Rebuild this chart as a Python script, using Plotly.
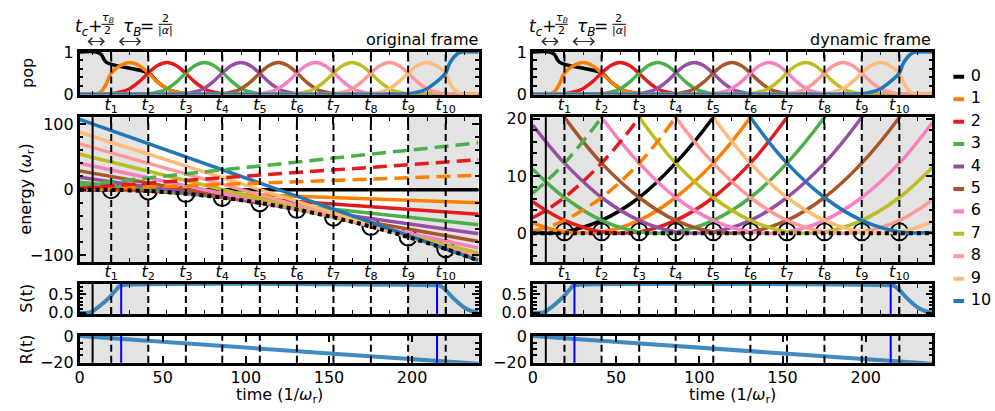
import plotly.graph_objects as go

W, H = 995, 411
FONT = "DejaVu Sans"

# ---------------- data ----------------
levels = list(range(11))
level_colors = ["#000000", "#ff7f00", "#e41a1c", "#4daf4a", "#984ea3", "#a65628",
                "#f781bf", "#bcbd22", "#ff9896", "#ffbb78", "#1f77b4"]
dashed_levels = [-1, -2, -3]
dashed_colors = ["#ff7f00", "#e41a1c", "#4daf4a"]

t_c = 7.8
tau_B = 22.35
t_cross = [19.0, 41.3, 63.9, 85.8, 108.4, 130.7, 152.7, 175.2, 197.6, 220.2]
t_mid = [7.8, 30.2, 52.5, 74.9, 97.2, 119.6, 141.9, 164.3, 186.6, 209.0, 231.3]
t_labels = ["<i>t</i><sub>%d</sub>" % k for k in range(1, 11)]
shade_spans = [[0, 41.3], [197.6, 240]]
t_blue = [25, 215]
x_ticks = [0, 50, 100, 150, 200]

# original frame: straight lines, values at t=0 and t=240
orig_t = [0, 240]
orig_E_start = [0, 1.7, 5.4, 11.1, 18.8, 28.5, 40.2, 53.9, 69.6, 87.3, 107.0]
orig_E_end = [0, -19.8, -37.6, -53.3, -67.1, -78.9, -88.7, -96.5, -102.2, -106.0, -107.8]
orig_dashed_start = [0.3, 2.6, 6.9]
orig_dashed_end = [21.8, 45.6, 71.3]
orig_circle_E = [0, -2, -6, -12, -20, -30, -42, -56, -72, -90]

# sample times for the curved energy lines
grid_t = [0, 7.8, 19.0, 41.3, 63.9, 85.8, 108.4, 130.7, 152.7, 175.2, 197.6, 220.2, 240]
orig_ground = [-0.12, 0, -0.25, -2.25, -6.25, -12.25, -20.25, -30.25, -42.25, -56.25, -72.25, -90.25, -108.0]

# dynamic frame energies at grid_t
dyn_E0 = [0.12, 0, 0.25, 2.25, 6.25, 12.25, 20.25, 30.25, 42.25, 56.25, 72.25, 90.25, 108.0]
dyn_E1 = [1.82, 1, 0.25, 0.25, 2.25, 6.25, 12.25, 20.25, 30.25, 42.25, 56.25, 72.25, 88.2]
dyn_E2 = [5.52, 4, 2.25, 0.25, 0.25, 2.25, 6.25, 12.25, 20.25, 30.25, 42.25, 56.25, 70.4]
dyn_E3 = [11.2, 9, 6.25, 2.25, 0.25, 0.25, 2.25, 6.25, 12.25, 20.25, 30.25, 42.25, 54.6]
dyn_E4 = [18.9, 16, 12.25, 6.25, 2.25, 0.25, 0.25, 2.25, 6.25, 12.25, 20.25, 30.25, 40.8]
dyn_E5 = [28.6, 25, 20.25, 12.25, 6.25, 2.25, 0.25, 0.25, 2.25, 6.25, 12.25, 20.25, 29.1]
dyn_E6 = [40.3, 36, 30.25, 20.25, 12.25, 6.25, 2.25, 0.25, 0.25, 2.25, 6.25, 12.25, 19.3]
dyn_E7 = [54.0, 49, 42.25, 30.25, 20.25, 12.25, 6.25, 2.25, 0.25, 0.25, 2.25, 6.25, 11.5]
dyn_E8 = [69.7, 64, 56.25, 42.25, 30.25, 20.25, 12.25, 6.25, 2.25, 0.25, 0.25, 2.25, 5.8]
dyn_E9 = [87.4, 81, 72.25, 56.25, 42.25, 30.25, 20.25, 12.25, 6.25, 2.25, 0.25, 0.25, 2.0]
dyn_E10 = [107.1, 100, 90.25, 72.25, 56.25, 42.25, 30.25, 20.25, 12.25, 6.25, 2.25, 0.25, 0.15]
dyn_Em1 = [0.42, 1, 2.25, 6.25, 12.25, 20.25, 30.25, 42.25, 56.25, 72.25, 90.25, 110.25, 129.4]
dyn_Em2 = [2.72, 4, 6.25, 12.25, 20.25, 30.25, 42.25, 56.25, 72.25, 90.25, 110.25, 132.25, 154.8]
dyn_Em3 = [7.02, 9, 12.25, 20.25, 30.25, 42.25, 56.25, 72.25, 90.25, 110.25, 132.25, 156.25, 182.2]
dyn_E = [dyn_E0, dyn_E1, dyn_E2, dyn_E3, dyn_E4, dyn_E5, dyn_E6, dyn_E7, dyn_E8, dyn_E9, dyn_E10]
dyn_Em = [dyn_Em1, dyn_Em2, dyn_Em3]
dyn_ground_t = [0, 240]
dyn_ground = [0, 0]
dyn_circle_E = [0.25, 0.25, 0.25, 0.25, 0.25, 0.25, 0.25, 0.25, 0.25, 0.25]

# population: common bump profile vs (t - t_n)/tau_B, plus the special edges
pop_bump_u = [-1.25, -1.0, -0.75, -0.5, -0.25, 0.0, 0.25, 0.5, 0.75, 1.0, 1.25, 1.5, 1.75, 2.0, 2.25]
pop_bump_v = [0.0, 0.01, 0.05, 0.13, 0.29, 0.5, 0.68, 0.75, 0.68, 0.5, 0.29, 0.13, 0.05, 0.01, 0.0]
pop_start_t = [0, 10, 13, 16]
pop0_start_v = [1, 1, 0.94, 0.76]
pop1_start_v = [0, 0, 0.06, 0.24]
pop_end_dt = [2, 4, 6, 8, 10]
pop9_end_v = [0.3, 0.17, 0.08, 0.02, 0.0]
pop10_end_v = [0.7, 0.83, 0.92, 0.98, 1.0]

# S(t) and R(t)
S_t = [0, 5, 7, 9, 12, 16, 19, 22, 24, 26, 214, 216, 218, 220, 224, 228, 232, 236, 240]
S_v = [0, 0, 0.02, 0.08, 0.18, 0.33, 0.46, 0.62, 0.72, 0.745, 0.745, 0.74, 0.7, 0.62, 0.43, 0.26, 0.12, 0.04, 0.01]
R_t = [0, 240]
R_v = [0, -21.5]


# ---------------- build population series ----------------
def bump(n, umin=-9, umax=9):
    tn = t_cross[n - 1]
    ts, vs = [], []
    for u, v in zip(pop_bump_u, pop_bump_v):
        if umin <= u <= umax:
            ts.append(tn + u * tau_B)
            vs.append(v)
    return ts, vs


pop_series = []
ts, vs = bump(1, umin=1.0)
pop_series.append((pop_start_t + ts + [240], pop0_start_v + vs + [0]))
ts, vs = bump(1, umin=0.0)
pop_series.append((pop_start_t + ts + [240], pop1_start_v + vs + [0]))
for n in range(2, 9):
    ts, vs = bump(n)
    pop_series.append(([0] + ts + [240], [0] + vs + [0]))
ts, vs = bump(9, umax=1.0)
pop_series.append(([0] + ts + [t_cross[9] + d for d in pop_end_dt] + [240], [0] + vs + pop9_end_v + [0]))
ts, vs = bump(10, umax=0.0)
pop_series.append(([0] + ts + [t_cross[9] + d for d in pop_end_dt] + [240], [0] + vs + pop10_end_v + [1.0]))

# ---------------- figure ----------------
fig = go.Figure()


def sfx(n):
    return "" if n == 1 else str(n)


def add(tr, p):
    tr.update(xaxis="x" + sfx(p), yaxis="y" + sfx(p), showlegend=False, hoverinfo="skip")
    fig.add_trace(tr)


for side in (0, 1):
    base = 1 + 4 * side
    for k in levels:
        add(go.Scatter(x=pop_series[k][0], y=pop_series[k][1], mode="lines",
                       line=dict(color=level_colors[k], width=3.5, shape="spline")), base)
    pe = base + 1
    add(go.Scatter(x=t_cross, y=(orig_circle_E if side == 0 else dyn_circle_E), mode="markers",
                   marker=dict(symbol="circle-open", size=17, color="black", line=dict(width=2))), pe)
    for k in levels:
        if side == 0:
            add(go.Scatter(x=orig_t, y=[orig_E_start[k], orig_E_end[k]], mode="lines",
                           line=dict(color=level_colors[k], width=3.5)), pe)
        else:
            add(go.Scatter(x=grid_t, y=dyn_E[k], mode="lines",
                           line=dict(color=level_colors[k], width=3.5, shape="spline")), pe)
    for j in range(3):
        if side == 0:
            add(go.Scatter(x=orig_t, y=[orig_dashed_start[j], orig_dashed_end[j]], mode="lines",
                           line=dict(color=dashed_colors[j], width=3.5, dash="14px,7px")), pe)
        else:
            add(go.Scatter(x=grid_t, y=dyn_Em[j], mode="lines",
                           line=dict(color=dashed_colors[j], width=3.5, dash="14px,7px", shape="spline")), pe)
    if side == 0:
        add(go.Scatter(x=grid_t, y=orig_ground, mode="lines",
                       line=dict(color="black", width=4, dash="4px,4px", shape="spline")), pe)
    else:
        add(go.Scatter(x=dyn_ground_t, y=dyn_ground, mode="lines",
                       line=dict(color="black", width=4, dash="4px,4px")), pe)
    add(go.Scatter(x=S_t, y=S_v, mode="lines", opacity=0.85,
                   line=dict(color="#1f77b4", width=4, shape="spline")), base + 2)
    add(go.Scatter(x=R_t, y=R_v, mode="lines", opacity=0.85,
                   line=dict(color="#1f77b4", width=4)), base + 3)

# legend (custom, own axes)
for k in levels:
    add(go.Scatter(x=[0, 1], y=[k, k], mode="lines", line=dict(color=level_colors[k], width=4)), 9)
add(go.Scatter(x=[1.6] * 11, y=levels, mode="text", text=[str(k) for k in levels],
               textposition="middle right", textfont=dict(family=FONT, size=16, color="black")), 9)

# ---------------- shapes ----------------
shapes = []
for p in range(1, 9):
    xr, yr = "x" + sfx(p), "y" + sfx(p) + " domain"
    for a, b in shade_spans:
        shapes.append(dict(type="rect", xref=xr, yref=yr, x0=a, x1=b, y0=0, y1=1,
                           fillcolor="#e3e3e3", line=dict(width=0), layer="below"))
    for tk in t_cross:
        shapes.append(dict(type="line", xref=xr, yref=yr, x0=tk, x1=tk, y0=0, y1=1,
                           line=dict(color="black", width=2, dash="7px,4px"), layer="above"))
    if p not in (1, 5):
        shapes.append(dict(type="line", xref=xr, yref=yr, x0=t_c, x1=t_c, y0=0, y1=1,
                           line=dict(color="black", width=2), layer="above"))
    if p in (3, 4, 7, 8):
        for tb in t_blue:
            shapes.append(dict(type="line", xref=xr, yref=yr, x0=tb, x1=tb, y0=0, y1=1,
                               line=dict(color="#0000ff", width=2), layer="above"))

# ---------------- annotations ----------------
ann = []


def txt(x, y, s, size=16, xanchor="center", angle=0):
    ann.append(dict(x=x / W, y=1 - y / H, xref="paper", yref="paper", text=s, showarrow=False,
                    xanchor=xanchor, yanchor="middle", textangle=angle, borderpad=0,
                    font=dict(family=FONT, size=size, color="black")))


def hbar(x0, x1, y):
    shapes.append(dict(type="line", xref="paper", yref="paper", x0=x0 / W, x1=x1 / W,
                       y0=1 - y / H, y1=1 - y / H, line=dict(color="black", width=1)))


for dx, label in ((0, "original frame"), (456, "dynamic frame")):
    # t_c + tau_B/2
    txt(69.5 + dx, 19.5, "<i>t<sub>c</sub></i>+", 17, "left")
    txt(103.5 + dx, 9, "<i>τ<sub>B</sub></i>", 11)
    hbar(97 + dx, 109.5 + dx, 16)
    txt(103 + dx, 22.5, "2", 11)
    # tau_B = 2/|alpha|
    txt(117.5 + dx, 19.5, "<i>τ<sub>B</sub></i>", 17, "left")
    txt(143 + dx, 17.5, "=", 17)
    txt(161 + dx, 9.5, "2", 11)
    hbar(154.5 + dx, 168 + dx, 16)
    txt(161.5 + dx, 23, "|<i>α</i>|", 11)
    for x0, x1 in ((81.5, 100.5), (113, 137)):
        ann.append(dict(x=(x1 + dx) / W, y=1 - 34 / H, xref="paper", yref="paper", text="",
                        showarrow=True, axref="pixel", ayref="pixel", ax=-(x1 - x0), ay=0,
                        arrowhead=4, arrowside="end+start", arrowsize=1.3, arrowwidth=1.1,
                        arrowcolor="#333333"))
    txt(476 + dx, 32, label, 16, "right")
    txt(275.5 + dx, 404, "time (1/<i>ω</i><sub>r</sub>)", 16)

txt(22, 67, "pop", 16, angle=-90)
txt(22, 188, "energy (<i>ω</i><sub>r</sub>)", 16, angle=-90)
txt(22, 302, "S(t)", 16, angle=-90)
txt(22, 356, "R(t)", 16, angle=-90)

# ---------------- axes ----------------
XD = [[75 / W, 476 / W], [530.5 / W, 932 / W]]
YD = {"pop": [1 - 89.5 / H, 1 - 44.5 / H], "E": [1 - 264.5 / H, 1 - 113.3 / H],
      "S": [1 - 319 / H, 1 - 287.7 / H], "R": [1 - 370 / H, 1 - 341.7 / H]}
tickfont = dict(family=FONT, size=16, color="black")
common = dict(showline=True, linecolor="black", linewidth=2.5, mirror="allticks", ticks="inside",
              tickcolor="black", tickwidth=1.5, ticklen=7, showgrid=False, zeroline=False,
              tickfont=tickfont)
layout_axes = {}
for side in (0, 1):
    for i, key in enumerate(["pop", "E", "S", "R"]):
        p = 1 + 4 * side + i
        xa = dict(common, domain=XD[side], anchor="y" + sfx(p), range=[0, 240])
        if key == "R":
            xa.update(tickmode="array", tickvals=x_ticks, ticktext=[str(v) for v in x_ticks],
                      ticklabelstandoff=-2,
                      minor=dict(tickmode="array", tickvals=t_cross, ticks="inside", ticklen=4,
                                 tickwidth=1.2, tickcolor="black"))
        else:
            xa.update(tickmode="array", tickvals=t_cross, ticktext=t_labels,
                      showticklabels=(key in ("pop", "E")), ticklabelstandoff=-7,
                      minor=dict(tickmode="array", tickvals=t_mid, ticks="inside", ticklen=4,
                                 tickwidth=1.2, tickcolor="black"))
        ya = dict(common, domain=YD[key], anchor="x" + sfx(p))
        if key == "pop":
            ya.update(range=[-0.01, 1.01], tickmode="array", tickvals=[0, 1], ticktext=["0", "1"],
                      minor=dict(tickmode="linear", tick0=0, dtick=0.2, ticks="inside", ticklen=4,
                                 tickcolor="black"))
        elif key == "E":
            if side == 0:
                ya.update(range=[-110, 110], tickmode="array", tickvals=[-100, 0, 100],
                          ticktext=["\u2212100", "0", "100"],
                          minor=dict(tickmode="linear", tick0=0, dtick=20, ticks="inside", ticklen=4,
                                     tickcolor="black"))
            else:
                ya.update(range=[-5, 20.25], tickmode="array", tickvals=[0, 10, 20],
                          ticktext=["0", "10", "20"],
                          minor=dict(tickmode="linear", tick0=0, dtick=2, ticks="inside", ticklen=4,
                                     tickcolor="black"))
        elif key == "S":
            ya.update(range=[-0.034, 0.773], tickmode="array", tickvals=[0, 0.5],
                      ticktext=["0.0", "0.5"],
                      minor=dict(tickmode="linear", tick0=0, dtick=0.1, ticks="inside", ticklen=4,
                                 tickcolor="black"))
        else:
            ya.update(range=[-20.7, 0.25], tickmode="array", tickvals=[-20, 0],
                      ticktext=["\u221220", "0"],
                      minor=dict(tickmode="linear", tick0=0, dtick=5, ticks="inside", ticklen=4,
                                 tickcolor="black"))
        layout_axes["xaxis" + sfx(p)] = xa
        layout_axes["yaxis" + sfx(p)] = ya

layout_axes["xaxis9"] = dict(domain=[953 / W, 1.0], range=[0, 42 / 11], visible=False, anchor="y9")
layout_axes["yaxis9"] = dict(domain=[1 - 317.2 / H, 1 - 59.2 / H], range=[10.5, -0.5], visible=False,
                             anchor="x9")

fig.update_layout(width=W, height=H, autosize=False, margin=dict(l=0, r=0, t=0, b=0),
                  paper_bgcolor="white", plot_bgcolor="white", showlegend=False,
                  font=dict(family=FONT, size=16, color="black"),
                  shapes=shapes, annotations=ann, **layout_axes)

fig.write_html("out.html")
